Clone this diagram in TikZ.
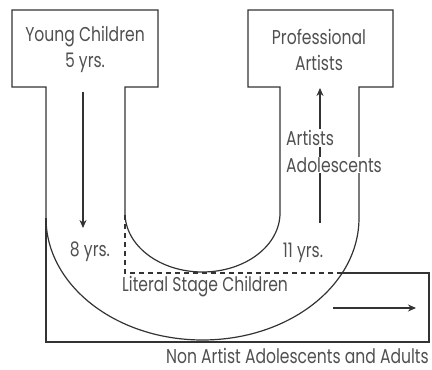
\documentclass[tikz,border=0pt]{standalone}
\usepackage{fontspec}
\usetikzlibrary{arrows.meta}
\newfontfamily\lblfont{Poppins}[FakeStretch=0.78]
\definecolor{ink}{HTML}{333333}
\definecolor{txt}{HTML}{505050}
\tikzset{
  outline/.style={draw=ink,line width=1.2pt},
  dashline/.style={draw=ink,line width=1.2pt,dash pattern=on 5pt off 4pt},
  lbl/.style={font=\lblfont\fontsize{20}{24}\selectfont,text=txt,inner sep=1pt},
  arr/.style={draw=ink,line width=1.2pt,-{Stealth[length=8pt,width=7pt]}}
}
\begin{document}
\begin{tikzpicture}[x=1pt,y=1pt]
\useasboundingbox (0,0) rectangle (432,370);
% U outline with boxes
\draw[outline] (46,152) -- (46,283) -- (12,283) -- (12,360) -- (158,360) -- (158,283) -- (125,283) -- (125,157)
  arc[start angle=180,end angle=360,x radius=77.5,y radius=59]
  -- (280,283) -- (248,283) -- (248,360) -- (393,360) -- (393,283) -- (359,283) -- (359,152)
  arc[start angle=0,end angle=-180,x radius=156.5,y radius=122];
% rectangle
\draw[outline] (46,152) -- (46,28) -- (429,28) -- (429,97) -- (342,97);
\draw[dashline] (342,97) -- (125,97) -- (125,157);
% arrows
\coordinate (d1) at (83,278);
\coordinate (d2) at (83,142);
\draw[arr] (d1) -- (d2);
\coordinate (u1) at (320,147);
\coordinate (u2) at (320,282);
\draw[arr] (u1) -- (u2);
\coordinate (r1) at (333,62);
\coordinate (r2) at (416,62);
\draw[arr] (r1) -- (r2);
% labels
\node[lbl] (yc) at (85,333) {Young Children};
\node[lbl] (y5) at (85,307) {5 yrs.};
\node[lbl] (pa) at (319,333) {Professional};
\node[lbl] (pb) at (319,307) {Artists};
\node[lbl,fill=white,anchor=west] (aa) at (285,232) {Artists};
\node[lbl,fill=white,anchor=west] (ab) at (285,205) {Adolescents};
\node[lbl] (e8) at (90,118) {8 yrs.};
\node[lbl] (e11) at (303,117) {11 yrs.};
\node[lbl,anchor=west] (ls) at (121,83) {Literal Stage Children};
\node[lbl,anchor=base east] (na) at (430,6) {Non Artist Adolescents and Adults};
\end{tikzpicture}
\end{document}
